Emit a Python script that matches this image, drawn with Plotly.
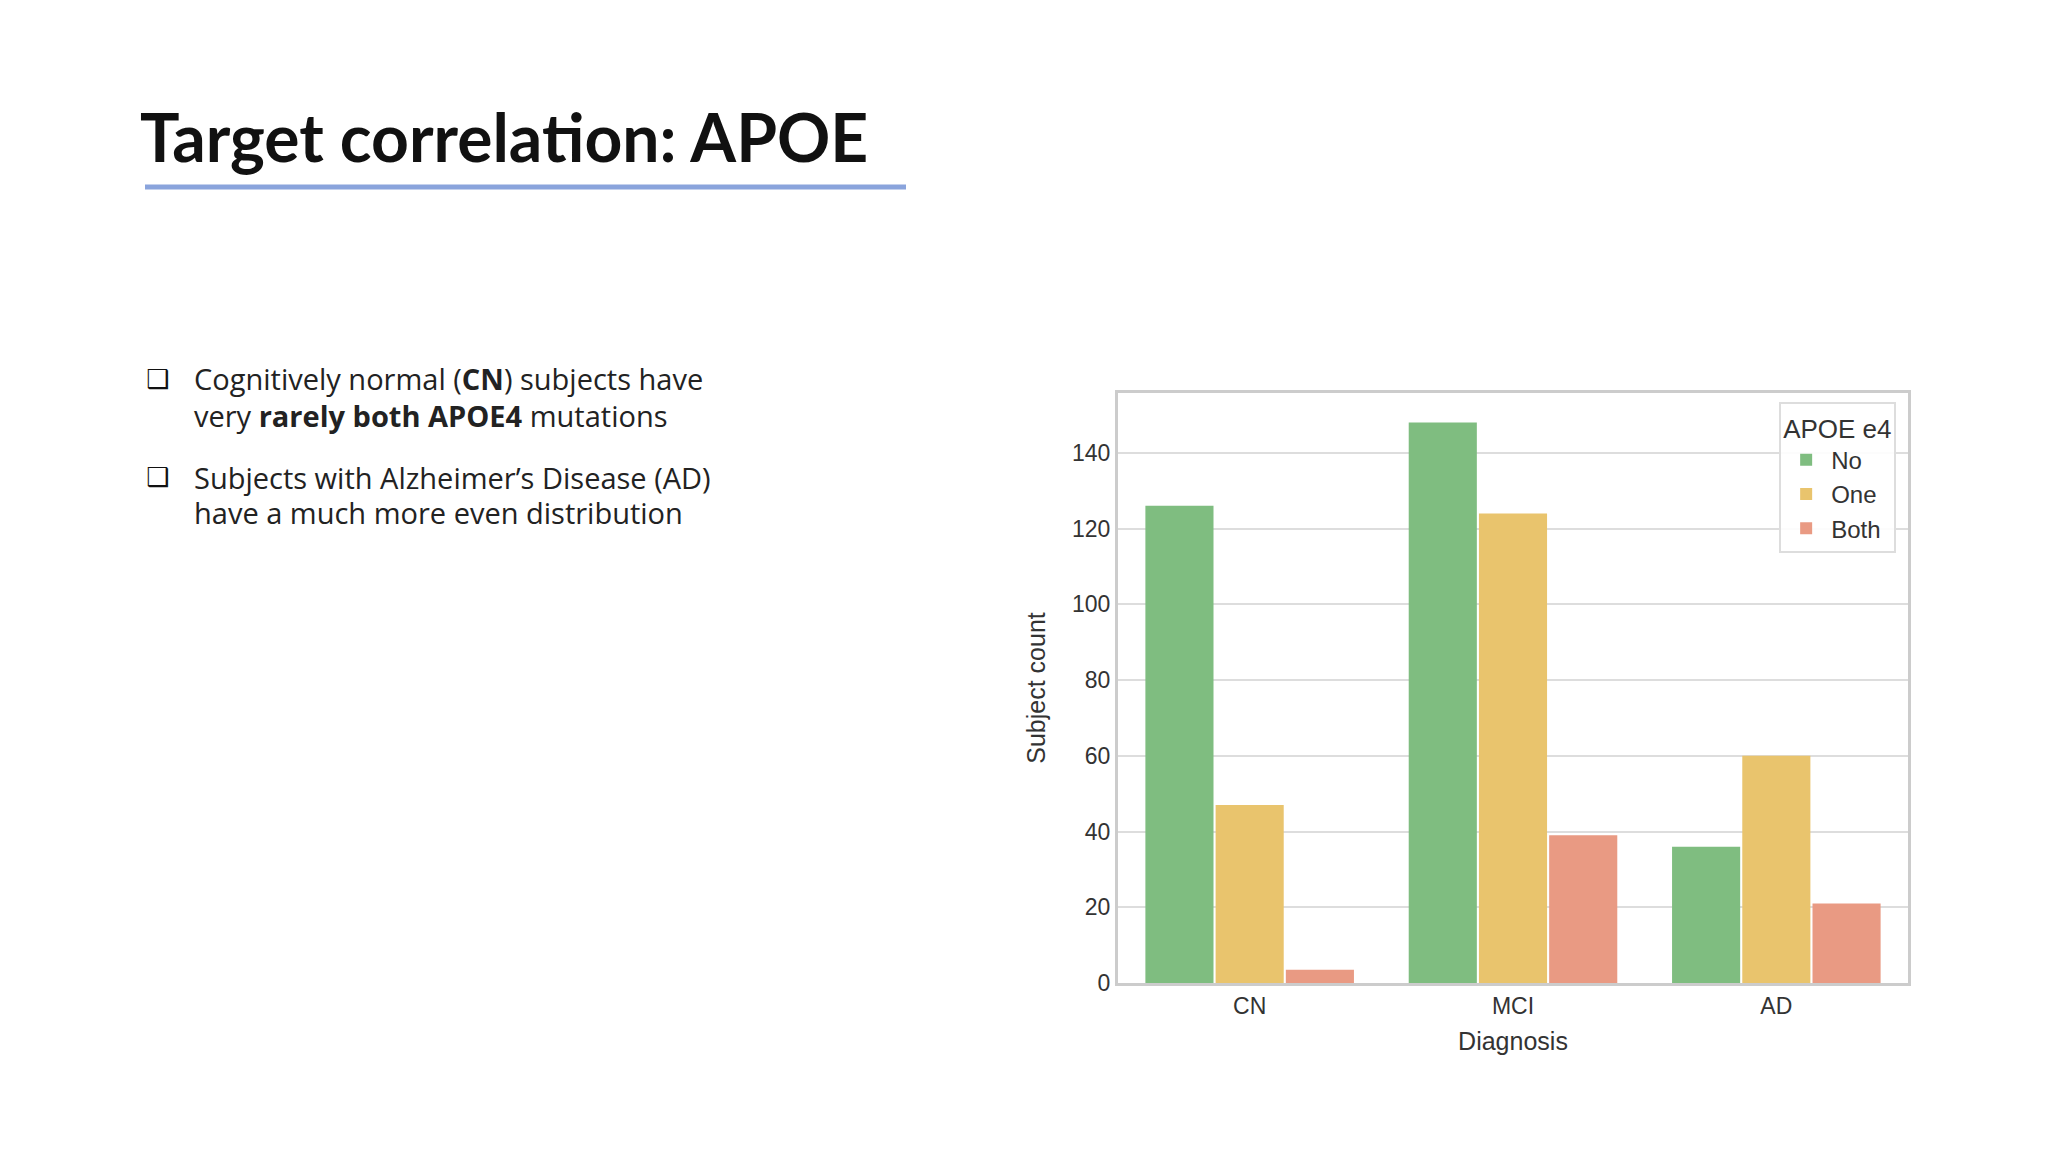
import plotly.graph_objects as go

categories = ["CN", "MCI", "AD"]
series_names = ["No", "One", "Both"]
no_vals = [126, 148, 36]
one_vals = [47, 124, 60]
both_vals = [3.5, 39, 21]
colors = ["#7fbd80", "#e9c46d", "#e99a83"]

fig = go.Figure()
for name, vals, c in zip(series_names, [no_vals, one_vals, both_vals], colors):
    fig.add_trace(go.Bar(x=categories, y=vals, name=name, marker=dict(color=c, line=dict(width=0))))

W, H = 2048, 1152
x0, x1, y0, y1 = 1110, 1900, 385, 975
fig.update_layout(
    width=W, height=H, paper_bgcolor="white", plot_bgcolor="white",
    margin=dict(l=x0, r=W - x1, t=y0, b=H - y1),
    barmode="group", bargap=0.2, bargroupgap=0.03,
    font=dict(family="Liberation Sans, Arial", color="#333333", size=23),
    legend=dict(
        title=dict(text="APOE e4", font=dict(size=26, color="#333")),
        x=0.985, y=0.985, xanchor="right", yanchor="top",
        bgcolor="rgba(255,255,255,0.9)", bordercolor="#dddddd", borderwidth=2,
        font=dict(size=24, color="#333"), itemwidth=40,
    ),
    xaxis=dict(title=dict(text="Diagnosis", font=dict(size=25)), showline=True, mirror=True,
               linecolor="#cccccc", linewidth=3, ticks="", showgrid=False),
    yaxis=dict(title=dict(text="Subject count", font=dict(size=25), standoff=20), range=[0, 155.8],
               dtick=20, showline=True, mirror=True, linecolor="#cccccc", linewidth=3,
               gridcolor="#dddddd", gridwidth=2, ticks="", zeroline=False),
)

def px(x, y):
    return (x - x0) / (x1 - x0), (H - y - (H - y1)) / (y1 - y0)

ux0, uy = px(137, 179)
ux1, _ = px(898, 179)
fig.add_shape(type="line", xref="paper", yref="paper", x0=ux0, x1=ux1, y0=uy, y1=uy,
              line=dict(color="#8aa4dc", width=5))

tx, ty = px(130, 128)
fig.add_annotation(x=tx, y=ty, xref="paper", yref="paper", xanchor="left", yanchor="middle", showarrow=False,
                   text="<b>Target correlation: APOE</b>",
                   font=dict(family="Lato", size=66, color="#111", weight=900))

bullets = [
    (379, "Cognitively normal (<b>CN</b>) subjects have"),
    (415, "very <b>rarely both APOE4</b> mutations"),
    (477, "Subjects with Alzheimer’s Disease (AD)"),
    (512, "have a much more even distribution"),
]
for y, t in bullets:
    bx, by = px(184, y - 8)
    fig.add_annotation(x=bx, y=by, xref="paper", yref="paper", xanchor="left", yanchor="middle", showarrow=False,
                       text=t, font=dict(family="Open Sans", size=29, color="#222"))
for y in (379, 477):
    bx, by = px(136, y - 8)
    fig.add_annotation(x=bx, y=by, xref="paper", yref="paper", xanchor="left", yanchor="middle", showarrow=False,
                       text="❑", font=dict(family="DejaVu Sans", size=26, color="#111"))

fig.write_html("out.html")
